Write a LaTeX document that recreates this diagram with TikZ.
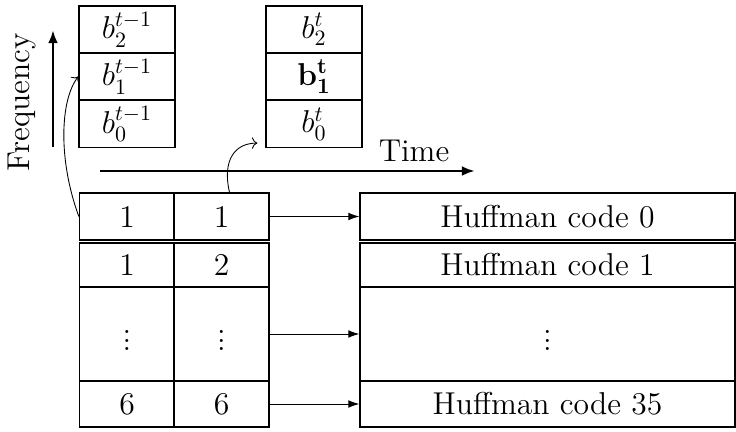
\documentclass[tikz,border=0pt]{standalone}
\usepackage{amsmath}
\usepackage{amssymb}
\usepackage{tikz}
\usetikzlibrary{arrows.meta}
\newcommand{\pxl}{0.016cm}

\begin{document}
\begin{tikzpicture}[x=0.016cm, y=-0.016cm, font=\Large, semithick,
		bin/.style={draw, inner sep=0pt, minimum width=96*\pxl, minimum height=47*\pxl},
		idx/.style={draw, inner sep=0pt, minimum width=95*\pxl},
		code/.style={draw, inner sep=0pt, minimum width=375*\pxl}]
			\useasboundingbox (0,0) rectangle (736,432);
			% bins at time t-1 and t
			\node[bin] (prevtwo) at (127,29.5) {$b_2^{t-1}$};
			\node[bin] (prevone) at (127,76.5) {$b_1^{t-1}$};
			\node[bin] (prevzero) at (127,124) {$b_0^{t-1}$};
			\node[bin] (curtwo) at (314,29.5) {$b_2^{t}$};
			\node[bin] (curone) at (314,76.5) {$\mathbf{b_1^t}$};
			\node[bin] (curzero) at (314,124) {$b_0^{t}$};
			% axes
			\coordinate (fbot) at (53,147);
			\coordinate (ftop) at (53,30);
			\draw[very thick, -{Latex[length=6pt,width=4.5pt]}] (fbot) -- (ftop);
			\node[rotate=90] (freq) at (22,102) {Frequency};
			\coordinate (tleft) at (100,171);
			\coordinate (tright) at (475,171);
			\draw[very thick, -{Latex[length=6pt,width=4.5pt]}] (tleft) -- (tright);
			\node (time) at (414,151) {Time};
			% index table
			\node[idx, minimum height=47*\pxl] (preva) at (127,216.5) {1};
			\node[idx, minimum height=47*\pxl] (cura) at (221.5,216.5) {1};
			\node[idx, minimum height=44*\pxl] (prevb) at (127,265) {1};
			\node[idx, minimum height=44*\pxl] (curb) at (221.5,265) {2};
			\node[idx, minimum height=94*\pxl] (prevdots) at (127,334) {$\vdots$};
			\node[idx, minimum height=94*\pxl] (curdots) at (221.5,334) {$\vdots$};
			\node[idx, minimum height=46*\pxl] (prevlast) at (127,404) {6};
			\node[idx, minimum height=46*\pxl] (curlast) at (221.5,404) {6};
			% Huffman codes
			\node[code, minimum height=47*\pxl] (huffa) at (547.5,216.5) {Huffman code 0};
			\node[code, minimum height=44*\pxl] (huffb) at (547.5,265) {Huffman code 1};
			\node[code, minimum height=94*\pxl] (huffdots) at (547.5,334) {$\vdots$};
			\node[code, minimum height=46*\pxl] (hufflast) at (547.5,404) {Huffman code 35};
			\draw[thin, -{Latex[length=5pt,width=3.5pt]}] (cura.east) -- (huffa.west);
			\draw[thin, -{Latex[length=5pt,width=3.5pt]}] (curdots.east) -- (huffdots.west);
			\draw[thin, -{Latex[length=5pt,width=3.5pt]}] (curlast.east) -- (hufflast.west);
			% links to the bins
			\draw[thin, ->] (preva.west) .. controls (58,160) and (60,100) .. (prevone.west);
			\draw[thin, ->] ([xshift=8*\pxl]cura.north) .. controls (222,160) and (235,143) .. ([shift={(-8*\pxl,5*\pxl)}]curzero.south west);
		\end{tikzpicture}
\end{document}
